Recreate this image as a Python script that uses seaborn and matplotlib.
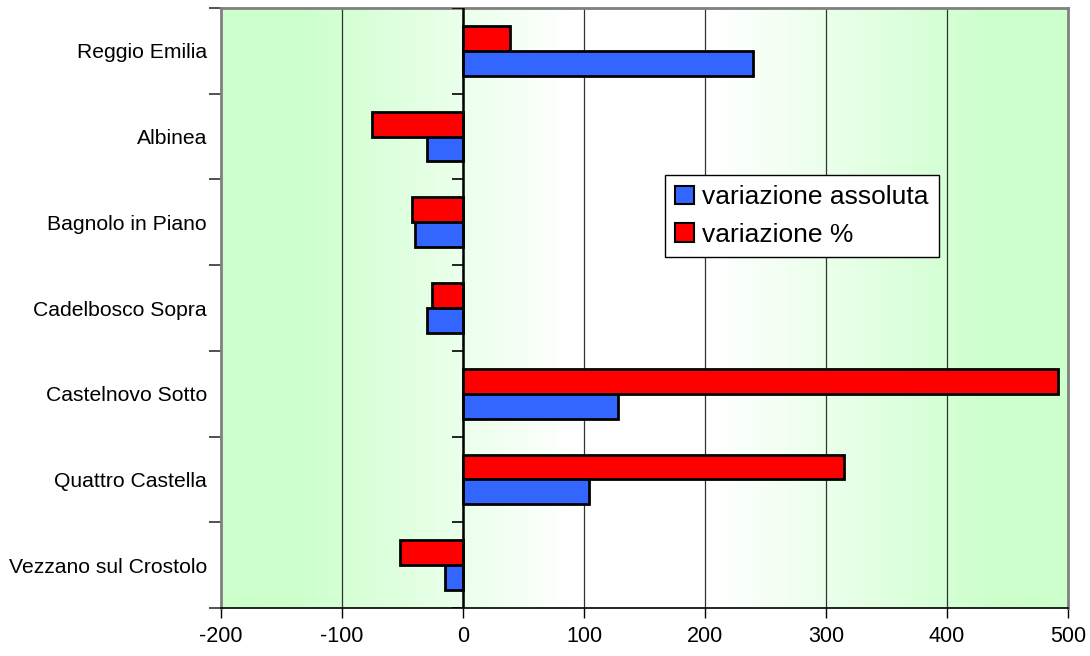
import numpy as np
import pandas as pd
import matplotlib
matplotlib.use("Agg")
import matplotlib.pyplot as plt
import seaborn as sns
from matplotlib.patches import Patch

# data
comuni = ["Reggio Emilia", "Albinea", "Bagnolo in Piano", "Cadelbosco Sopra",
          "Castelnovo Sotto", "Quattro Castella", "Vezzano sul Crostolo"]
var_assoluta = [240, -30, -40, -30, 128, 104, -15]
var_perc = [39, -75, -42, -26, 492, 315, -52]
serie = ["variazione assoluta", "variazione %"]
colori = {"variazione assoluta": "#3366ff", "variazione %": "#ff0000"}
x_ticks = [-200, -100, 0, 100, 200, 300, 400, 500]

df = pd.DataFrame({
    "comune": comuni * 2,
    "valore": var_assoluta + var_perc,
    "serie": [serie[0]] * len(comuni) + [serie[1]] * len(comuni),
})

sns.set_style("white")
plt.rcParams["font.family"] = ["Liberation Sans", "DejaVu Sans"]
plt.rcParams["text.color"] = "black"
plt.rcParams["xtick.color"] = "black"
plt.rcParams["ytick.color"] = "black"
plt.rcParams["ytick.left"] = True
plt.rcParams["ytick.minor.left"] = True

fig = plt.figure(figsize=(10.9, 6.56), dpi=100)
ax = fig.add_axes([221 / 1090, 1 - 608 / 656, 847 / 1090, 600 / 656])

# background gradient: green at the edges, white in the middle
xs = np.linspace(-200, 500, 400)
w = np.clip((np.abs(xs - 150) - 60) / 230, 0, 1)
green = np.array([204, 255, 204]) / 255
rgb = (1 - w)[:, None] * np.ones(3) + w[:, None] * green
ax.imshow(rgb[None, :, :], extent=[-200, 500, 6.5, -0.5], aspect="auto", zorder=0)

sns.barplot(data=df, y="comune", x="valore", hue="serie",
            hue_order=["variazione %", "variazione assoluta"], order=comuni,
            palette=colori, orient="h", width=0.58, saturation=1,
            edgecolor="black", linewidth=2, legend=False, ax=ax, zorder=3)

ax.set_xlim(-200, 500)
ax.set_ylim(6.5, -0.5)
ax.set_xlabel("")
ax.set_ylabel("")

# vertical gridlines
for xv in x_ticks[1:-1]:
    ax.axvline(xv, color="#333333", lw=0.9, zorder=1)
ax.axvline(0, color="black", lw=1.8, zorder=4)
# small ticks on the zero line at category borders
ax.hlines(np.arange(-0.5, 7), -9, 0, color="black", lw=1.2, zorder=4)

ax.set_xticks(x_ticks)
ax.set_xticklabels([str(v) for v in x_ticks], fontsize=15.5, color="black")
ax.tick_params(axis="x", direction="out", length=7, width=1, color="black",
               labelcolor="black", pad=6, bottom=True)
ax.set_yticks(range(len(comuni)))
ax.set_yticklabels(comuni, fontsize=15.2, color="black")
ax.tick_params(axis="y", which="major", length=0, pad=10, labelcolor="black")
ax.set_yticks(np.arange(-0.5, 7), minor=True)
ax.tick_params(axis="y", which="minor", direction="out", length=9, width=1.2,
               color="#333333", left=True)

for side in ["top", "right", "left"]:
    ax.spines[side].set_color("#808080")
    ax.spines[side].set_linewidth(2)
ax.spines["bottom"].set_color("black")
ax.spines["bottom"].set_linewidth(1.2)

handles = [Patch(facecolor=colori[s], edgecolor="black", linewidth=1.5, label=s) for s in serie]
leg = ax.legend(handles=handles, loc="upper left", bbox_to_anchor=(0.524, 0.722),
                fontsize=19, frameon=True, fancybox=False, framealpha=1,
                handlelength=0.7, handleheight=0.7, handletextpad=0.3,
                borderpad=0.4, labelspacing=0.5, borderaxespad=0)
leg.get_frame().set_edgecolor("black")
leg.get_frame().set_linewidth(1)
leg.set_zorder(5)
for t in leg.get_texts():
    t.set_color("black")

fig.savefig("out.png", dpi=100)
